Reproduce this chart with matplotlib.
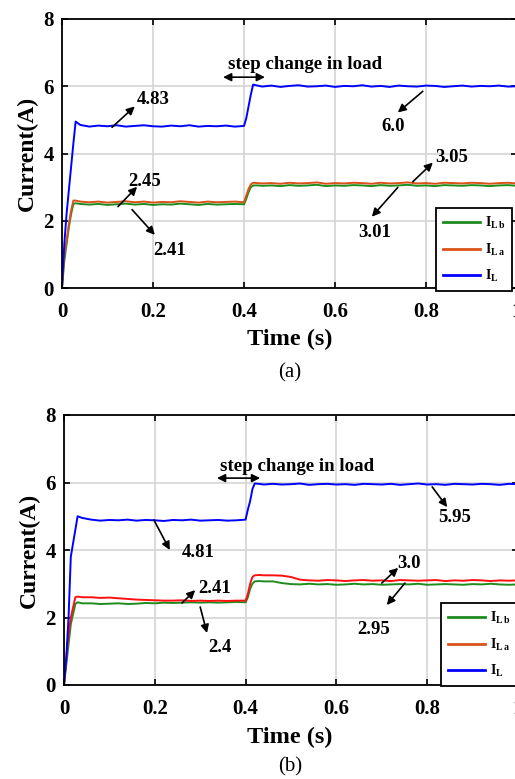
import matplotlib
matplotlib.use("Agg")
import matplotlib.pyplot as plt
from matplotlib.lines import Line2D

plt.rcParams["font.family"] = ["Liberation Serif", "DejaVu Serif"]
plt.rcParams["font.weight"] = "bold"
plt.rcParams["mathtext.fontset"] = "custom"
plt.rcParams["mathtext.rm"] = "Liberation Serif:bold"
plt.rcParams["mathtext.it"] = "Liberation Serif:bold"
plt.rcParams["mathtext.bf"] = "Liberation Serif:bold"

# time axis (s)
t = [0, 0.005, 0.01, 0.015, 0.02, 0.025, 0.03, 0.04,
     0.06, 0.08, 0.10, 0.12, 0.14, 0.16, 0.18, 0.20, 0.22, 0.24, 0.26, 0.28,
     0.30, 0.32, 0.34, 0.36, 0.38, 0.40,
     0.405, 0.41, 0.415, 0.42, 0.43, 0.44,
     0.46, 0.48, 0.50, 0.52, 0.54, 0.56, 0.58, 0.60, 0.62, 0.64, 0.66, 0.68,
     0.70, 0.72, 0.74, 0.76, 0.78, 0.80, 0.82, 0.84, 0.86, 0.88, 0.90, 0.92,
     0.94, 0.96, 0.98, 1.00]

# (a) currents
a_IL = [0, 1.3, 2.2, 2.9, 3.6, 4.3, 4.95, 4.85,
        4.80, 4.83, 4.81, 4.84, 4.80, 4.82, 4.84, 4.81, 4.80, 4.83, 4.81, 4.84,
        4.80, 4.82, 4.81, 4.83, 4.80, 4.82,
        5.05, 5.40, 5.75, 6.05, 6.02, 5.99,
        6.02, 5.98, 6.01, 6.03, 5.99, 6.00, 6.02, 5.98, 6.01, 6.00, 6.03, 5.99,
        6.01, 5.98, 6.02, 6.00, 5.99, 6.02, 6.01, 5.98, 6.00, 6.02, 5.99, 6.01,
        6.00, 6.02, 5.99, 6.00]
a_ILa = [0, 1.0, 1.4, 1.9, 2.3, 2.6, 2.6, 2.57,
         2.55, 2.57, 2.54, 2.56, 2.58, 2.55, 2.57, 2.54, 2.56, 2.55, 2.58, 2.56,
         2.54, 2.57, 2.55, 2.56, 2.57, 2.55,
         2.75, 2.95, 3.08, 3.13, 3.12, 3.11,
         3.12, 3.10, 3.13, 3.11, 3.12, 3.14, 3.10, 3.12, 3.11, 3.13, 3.12, 3.10,
         3.13, 3.11, 3.12, 3.14, 3.11, 3.12, 3.10, 3.13, 3.12, 3.11, 3.13, 3.12,
         3.10, 3.12, 3.13, 3.11]
a_ILb = [0, 0.8, 1.3, 1.8, 2.2, 2.5, 2.52, 2.50,
         2.48, 2.50, 2.47, 2.49, 2.51, 2.48, 2.50, 2.47, 2.49, 2.48, 2.51, 2.49,
         2.47, 2.50, 2.48, 2.49, 2.50, 2.49,
         2.65, 2.85, 3.00, 3.05, 3.05, 3.04,
         3.05, 3.03, 3.06, 3.04, 3.05, 3.07, 3.03, 3.05, 3.04, 3.06, 3.05, 3.03,
         3.06, 3.04, 3.05, 3.07, 3.04, 3.05, 3.03, 3.06, 3.05, 3.04, 3.06, 3.05,
         3.03, 3.05, 3.06, 3.04]

# (b) currents
b_IL = [0, 0.8, 2.0, 3.8, 4.2, 4.6, 5.0, 4.95,
        4.90, 4.87, 4.89, 4.88, 4.90, 4.87, 4.89, 4.88, 4.86, 4.89, 4.88, 4.90,
        4.87, 4.88, 4.89, 4.87, 4.88, 4.90,
        5.20, 5.45, 5.80, 5.97, 5.96, 5.94,
        5.96, 5.94, 5.95, 5.97, 5.93, 5.95, 5.96, 5.94, 5.95, 5.93, 5.96, 5.95,
        5.94, 5.96, 5.93, 5.95, 5.97, 5.94, 5.95, 5.93, 5.96, 5.95, 5.94, 5.96,
        5.95, 5.93, 5.96, 5.95]
b_ILa = [0, 0.8, 1.5, 2.0, 2.3, 2.6, 2.62, 2.60,
         2.60, 2.58, 2.59, 2.57, 2.55, 2.53, 2.52, 2.51, 2.50, 2.50, 2.51, 2.49,
         2.50, 2.49, 2.50, 2.49, 2.50, 2.50,
         2.70, 3.00, 3.20, 3.25, 3.26, 3.25,
         3.25, 3.24, 3.20, 3.12, 3.10, 3.09, 3.11, 3.10, 3.08, 3.10, 3.11, 3.09,
         3.10, 3.08, 3.11, 3.10, 3.09, 3.10, 3.11, 3.08, 3.10, 3.09, 3.11, 3.10,
         3.08, 3.10, 3.09, 3.10]
b_ILb = [0, 0.6, 1.2, 1.8, 2.1, 2.4, 2.45, 2.42,
         2.42, 2.40, 2.41, 2.42, 2.40, 2.41, 2.43, 2.42, 2.44, 2.43, 2.44, 2.45,
         2.44, 2.45, 2.44, 2.45, 2.46, 2.45,
         2.60, 2.85, 3.00, 3.07, 3.08, 3.07,
         3.07, 3.02, 2.99, 2.98, 3.00, 2.98, 2.99, 2.97, 2.98, 3.00, 2.98, 2.99,
         2.97, 2.98, 2.99, 2.98, 3.00, 2.97, 2.98, 2.99, 2.98, 2.97, 2.99, 2.98,
         3.00, 2.98, 2.97, 2.98]

# annotations: label, text position, arrow tail, arrow head
notes_a = [
    ("4.83", (0.165, 5.61), (0.110, 4.78), (0.160, 5.40)),
    ("6.0", (0.701, 4.81), (0.793, 5.85), (0.738, 5.22)),
    ("3.05", (0.820, 3.88), (0.771, 3.16), (0.815, 3.73)),
    ("3.01", (0.651, 1.64), (0.738, 2.99), (0.681, 2.12)),
    ("2.45", (0.145, 3.16), (0.123, 2.42), (0.165, 3.01)),
    ("2.41", (0.200, 1.13), (0.154, 2.33), (0.204, 1.58)),
]
notes_b = [
    ("4.81", (0.260, 3.94), (0.198, 4.89), (0.233, 4.00)),
    ("5.95", (0.824, 4.95), (0.811, 5.87), (0.844, 5.27)),
    ("3.0", (0.733, 3.61), (0.700, 3.02), (0.736, 3.47)),
    ("2.95", (0.645, 1.63), (0.751, 3.02), (0.711, 2.37)),
    ("2.41", (0.295, 2.87), (0.260, 2.43), (0.289, 2.81)),
    ("2.4", (0.317, 1.10), (0.300, 2.31), (0.315, 1.54)),
]
step_a = ((0.365, 6.66), (0.354, 0.446, 6.27))
step_b = ((0.344, 6.46), (0.337, 0.432, 6.13))

C_L = "#0000FF"
C_La = "#D95319"
C_Lb = "#1E8C1E"
C_red = "#FF1010"


def draw_panel(ax, IL, ILa, ILb, la_color, notes, step):
    ax.plot(t, ILb, color=C_Lb, lw=1.4)
    ax.plot(t, ILa, color=la_color, lw=1.4)
    ax.plot(t, IL, color=C_L, lw=1.4)
    ax.set_xlim(0, 1)
    ax.set_ylim(0, 8)
    ax.set_xticks([0, 0.2, 0.4, 0.6, 0.8, 1.0])
    ax.set_xticklabels(["0", "0.2", "0.4", "0.6", "0.8", "1"])
    ax.set_yticks([0, 2, 4, 6, 8])
    ax.grid(True, color="#d4d4d4", lw=1.2)
    ax.tick_params(direction="in", top=True, right=True, length=4,
                   width=1.2, labelsize=15)
    ax.tick_params(axis="x", pad=10)
    ax.tick_params(axis="y", pad=6)
    for s in ax.spines.values():
        s.set_linewidth(1.3)
    ax.set_ylabel("Current(A)", fontsize=17, fontweight="bold", labelpad=4)

    for label, txt, tail, head in notes:
        ax.annotate("", xy=head, xytext=tail,
                    arrowprops=dict(arrowstyle="-|>", color="black", lw=1.2,
                                    mutation_scale=12, shrinkA=0, shrinkB=0))
        ax.text(txt[0], txt[1], label, fontsize=13.5, fontweight="bold",
                ha="left", va="center")

    (sx, sy), (x0, x1, ay) = step
    ax.text(sx, sy, "step change in load", fontsize=13.6, fontweight="bold",
            ha="left", va="center")
    ax.annotate("", xy=(x1, ay), xytext=(x0, ay),
                arrowprops=dict(arrowstyle="<|-|>", color="black", lw=1.2,
                                mutation_scale=12, shrinkA=0, shrinkB=0))


fig = plt.figure(figsize=(5.15, 7.79), dpi=100)
ax1 = fig.add_axes([62 / 515, 1 - 288 / 779, 455 / 515, 269 / 779])
ax2 = fig.add_axes([64 / 515, 1 - 685 / 779, 454 / 515, 270 / 779])

draw_panel(ax1, a_IL, a_ILa, a_ILb, C_La, notes_a, step_a)
draw_panel(ax2, b_IL, b_ILa, b_ILb, C_red, notes_b, step_b)

handles = [
    Line2D([], [], color=C_Lb, lw=2, label=r"$\mathrm{I_{L\,b}}$"),
    Line2D([], [], color=C_La, lw=2, label=r"$\mathrm{I_{L\,a}}$"),
    Line2D([], [], color=C_L, lw=2, label=r"$\mathrm{I_{L}}$"),
]
for anchor in [(436 / 515, 1 - 291 / 779), (441 / 515, 1 - 686 / 779)]:
    leg = fig.legend(handles=handles, loc="lower left", bbox_to_anchor=anchor,
                     bbox_transform=fig.transFigure, fontsize=10,
                     handlelength=2.7, handletextpad=0.3, labelspacing=0.75,
                     borderpad=0.5, borderaxespad=0, fancybox=False,
                     framealpha=1, edgecolor="black")
    leg.get_frame().set_linewidth(1.3)

fig.text(290 / 515, 1 - 339 / 779, "Time (s)", fontsize=17.5,
         fontweight="bold", ha="center", va="center")
fig.text(290 / 515, 1 - 373 / 779, "(a)", fontsize=15, fontweight="normal",
         ha="center", va="center")
fig.text(290 / 515, 1 - 737 / 779, "Time (s)", fontsize=17.5,
         fontweight="bold", ha="center", va="center")
fig.text(290 / 515, 1 - 767 / 779, "(b)", fontsize=15, fontweight="normal",
         ha="center", va="center")

fig.savefig("out.png", dpi=100)
